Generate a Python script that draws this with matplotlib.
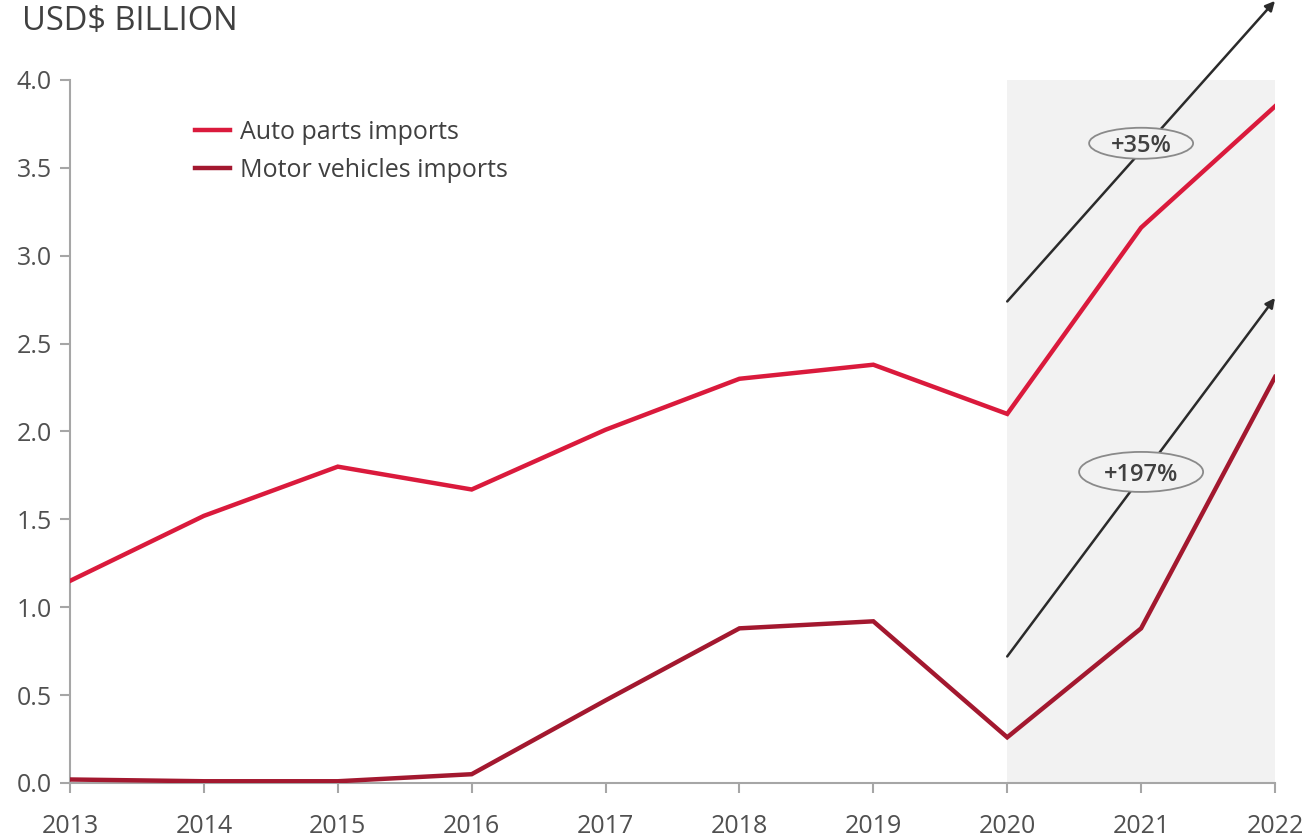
import matplotlib
matplotlib.use("Agg")
import matplotlib.pyplot as plt
from matplotlib.patches import Ellipse

years = [2013, 2014, 2015, 2016, 2017, 2018, 2019, 2020, 2021, 2022]
auto_parts = [1.15, 1.52, 1.80, 1.67, 2.01, 2.30, 2.38, 2.10, 3.16, 3.85]
motor_vehicles = [0.02, 0.01, 0.01, 0.05, 0.47, 0.88, 0.92, 0.26, 0.88, 2.31]
series_labels = ["Auto parts imports", "Motor vehicles imports"]
y_ticks = [0.0, 0.5, 1.0, 1.5, 2.0, 2.5, 3.0, 3.5, 4.0]
growth_labels = ["+35%", "+197%"]

plt.rcParams['font.family'] = ['Open Sans', 'DejaVu Sans']

fig = plt.figure(figsize=(13.15, 8.39), dpi=100)
ax = fig.add_axes([70/1315, 56/839, 1205/1315, 703/839])

ax.axvspan(2020, 2022, ymin=0, ymax=1, color="#F2F2F2", zorder=0, lw=0)

ax.plot(years, auto_parts, color="#DA1A3C", lw=3.2, label=series_labels[0], zorder=3, solid_joinstyle="miter")
ax.plot(years, motor_vehicles, color="#A3182F", lw=3.2, label=series_labels[1], zorder=3, solid_joinstyle="miter")

# growth arrows
ax.annotate("", xy=(2022, 4.45), xytext=(2020, 2.74),
            arrowprops=dict(arrowstyle="-|>", color="#2b2b2b", lw=1.8, mutation_scale=14,
                            shrinkA=0, shrinkB=0),
            annotation_clip=False, zorder=4)
ax.annotate("", xy=(2022, 2.76), xytext=(2020, 0.72),
            arrowprops=dict(arrowstyle="-|>", color="#2b2b2b", lw=1.8, mutation_scale=14,
                            shrinkA=0, shrinkB=0),
            annotation_clip=False, zorder=4)

# ellipse labels (sizes in data units derived from pixel sizes)
px_x = 1205 / 9.0
px_y = 703 / 4.0
for (cx, cy, w, h, txt) in [(2021.0, 3.64, 104, 31, growth_labels[0]),
                             (2021.0, 1.77, 124, 40, growth_labels[1])]:
    e = Ellipse((cx, cy), w / px_x, h / px_y, facecolor="#F2F2F2",
                edgecolor="#8a8a8a", lw=1.3, zorder=5)
    ax.add_patch(e)
    ax.text(cx, cy - 3 / px_y, txt, ha="center", va="center", fontsize=17, fontweight="semibold",
            color="#404040", zorder=6)

ax.set_xlim(2013, 2022)
ax.set_ylim(0, 4.0)
ax.set_xticks(years)
ax.set_xticklabels([str(y) for y in years])
ax.set_yticks(y_ticks)
ax.set_yticklabels([f"{v:.1f}" for v in y_ticks])

for s in ["top", "right"]:
    ax.spines[s].set_visible(False)
for s in ["left", "bottom"]:
    ax.spines[s].set_color("#A6A6A6")
    ax.spines[s].set_linewidth(1.5)
ax.tick_params(axis="both", colors="#A6A6A6", length=7, width=1.5, labelsize=18,
               labelcolor="#505050", direction="out")
ax.tick_params(axis="x", pad=15)
ax.tick_params(axis="y", pad=6)

leg = ax.legend(loc="upper left", bbox_to_anchor=(0.085, 0.975), frameon=False, fontsize=18,
                handlelength=1.4, handletextpad=0.4, labelspacing=0.5)
for t in leg.get_texts():
    t.set_color("#404040")

fig.text(22/1315, 1 - 22/839, "USD$ BILLION", fontsize=23.5, color="#404040", va="center", ha="left")

fig.savefig("out.png", dpi=100)
